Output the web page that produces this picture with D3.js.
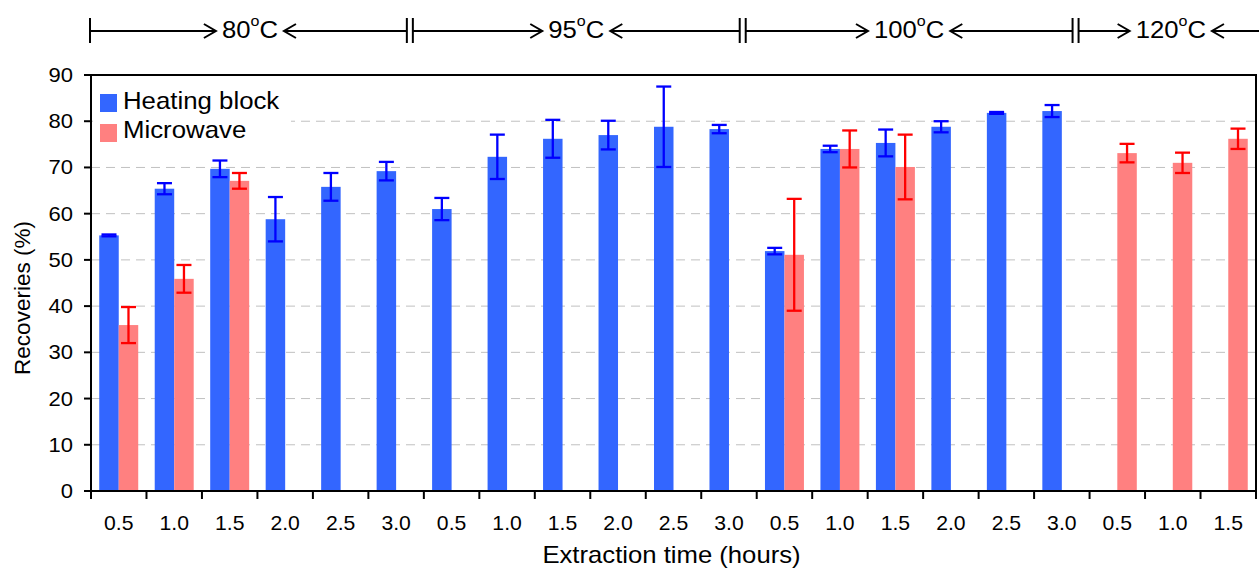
<!DOCTYPE html>
<html><head><meta charset="utf-8">
<script src="https://cdn.jsdelivr.net/npm/d3@7"></script>
<style>
body{margin:0;background:#fff}
text{font-family:"Liberation Sans",Arial,sans-serif;fill:#000}
</style>
</head><body>
<svg id="c" width="1259" height="570"></svg>
<script>
const timeLabels = ["0.5","1.0","1.5","2.0","2.5","3.0","0.5","1.0","1.5","2.0","2.5","3.0","0.5","1.0","1.5","2.0","2.5","3.0","0.5","1.0","1.5"];
const tempLabels = ["80","95","100","120"];
const tempCounts = [6,6,6,3];
const seriesNames = ["Heating block","Microwave"];
const heating =      [55.3,65.4,69.7,58.8,65.8,69.2, 61.0,72.3,76.2,77.0,78.8,78.3, 51.9,74.0,75.3,78.8,81.8,82.2, null,null,null];
const heatingErr =   [0.2, 1.2, 1.8, 4.8, 3.0, 2.0,  2.4, 4.8, 4.1, 3.1, 8.7, 0.9,  0.7, 0.7, 2.9, 1.2, 0.2, 1.3,  null,null,null];
const microwave =    [35.9,45.9,67.1,null,null,null, null,null,null,null,null,null, 51.1,74.0,70.1,null,null,null, 73.1,71.0,76.2];
const microwaveErr = [3.9, 3.0, 1.7, null,null,null, null,null,null,null,null,null, 12.1,4.0, 7.0, null,null,null, 2.0, 2.2, 2.2];
const yTicks = [0,10,20,30,40,50,60,70,80,90];
const gridTicks = [10,20,30,40,50,60,70,80];

const fillColors = ["#3366ff","#ff8080"];
const errColors = ["#0000ff","#ff0000"];

const svg = d3.select("#c");
const L = 91, R = 1256, T = 75, B = 491;
const x0 = d3.scaleBand().domain(d3.range(timeLabels.length)).range([L,R]).paddingInner(0).paddingOuter(0);
const x1 = d3.scaleBand().domain([0,1]).range([0,x0.bandwidth()]).paddingInner(0).paddingOuter(0.423);
const y = d3.scaleLinear().domain([0,90]).range([B,T]);

// grid
svg.append("g").selectAll("line").data(gridTicks).join("line")
  .attr("x1",L).attr("x2",R).attr("y1",d=>y(d)).attr("y2",d=>y(d))
  .attr("stroke","#c0c0c0").attr("stroke-width",1).attr("stroke-dasharray","9,6");

// legend background
svg.append("rect").attr("x",93).attr("y",78).attr("width",198).attr("height",70).attr("fill","#fff");

// bars
const series = [
  {vals:heating, errs:heatingErr},
  {vals:microwave, errs:microwaveErr}
];
series.forEach((s,si)=>{
  const data = s.vals.map((v,i)=>({i,v,e:s.errs[i]})).filter(d=>d.v!=null);
  const g = svg.append("g");
  g.selectAll("rect").data(data).join("rect")
    .attr("x",d=>x0(d.i)+x1(si)).attr("width",x1.bandwidth())
    .attr("y",d=>y(d.v)).attr("height",d=>y(0)-y(d.v))
    .attr("fill",fillColors[si]);
  const eg = svg.append("g").attr("stroke",errColors[si]).attr("stroke-width",2.3);
  data.forEach(d=>{
    const cx = x0(d.i)+x1(si)+x1.bandwidth()/2;
    eg.append("line").attr("x1",cx).attr("x2",cx).attr("y1",y(d.v+d.e)).attr("y2",y(d.v-d.e));
    eg.append("line").attr("x1",cx-7.5).attr("x2",cx+7.5).attr("y1",y(d.v+d.e)).attr("y2",y(d.v+d.e));
    eg.append("line").attr("x1",cx-7.5).attr("x2",cx+7.5).attr("y1",y(d.v-d.e)).attr("y2",y(d.v-d.e));
  });
});

// frame
svg.append("path").attr("d",`M${L},${T}H${R}V${B}`).attr("fill","none").attr("stroke","#000").attr("stroke-width",2);
svg.append("line").attr("x1",L).attr("x2",L).attr("y1",T).attr("y2",B).attr("stroke","#000").attr("stroke-width",2);
svg.append("line").attr("x1",L).attr("x2",R).attr("y1",B).attr("y2",B).attr("stroke","#000").attr("stroke-width",2);

// y axis ticks & labels
const ya = svg.append("g");
ya.selectAll("line").data(yTicks).join("line")
  .attr("x1",L-7).attr("x2",L).attr("y1",d=>y(d)).attr("y2",d=>y(d)).attr("stroke","#000").attr("stroke-width",2);
ya.selectAll("text").data(yTicks).join("text")
  .attr("transform",d=>`translate(73,${y(d)+7}) scale(1.1,1)`)
  .attr("text-anchor","end").attr("font-size",20).text(d=>d);

// x axis ticks & labels
const xb = d3.range(timeLabels.length).map(i=>x0(i)).concat([R]);
const xa = svg.append("g");
xa.selectAll("line").data(xb).join("line")
  .attr("x1",d=>d).attr("x2",d=>d).attr("y1",B).attr("y2",B+8).attr("stroke","#000").attr("stroke-width",2);
xa.selectAll("text").data(timeLabels).join("text")
  .attr("transform",(d,i)=>`translate(${x0(i)+x0.bandwidth()/2},530) scale(1.06,1)`)
  .attr("text-anchor","middle").attr("font-size",20).text(d=>d);

// axis titles
svg.append("text").attr("transform",`translate(${(L+R)/2 - 2},563) scale(1.07,1)`)
  .attr("text-anchor","middle").attr("font-size",24).text("Extraction time (hours)");
svg.append("text").attr("transform",`translate(30,298) rotate(-90)`)
  .attr("text-anchor","middle").attr("font-size",22.5).text("Recoveries (%)");

// legend
seriesNames.forEach((n,i)=>{
  svg.append("rect").attr("x",100).attr("y",94+i*30).attr("width",17).attr("height",18).attr("fill",fillColors[i]);
  svg.append("text").attr("transform",`translate(123,${109+i*29}) scale(1.075,1)`)
    .attr("font-size",24).text(n);
});

// header temperature ranges
const hy = 31;
const HS = 1.07;
const hdr = svg.append("g").attr("stroke","#000");
let start = 0;
const seps = [];
tempCounts.forEach((c,gi)=>{
  seps.push(gi===0 ? L-1 : x0(start)-14);
  start += c;
});
seps.push(1262);
seps.forEach((s,si)=>{
  if(si===0){
    hdr.append("line").attr("x1",s).attr("x2",s).attr("y1",18).attr("y2",43).attr("stroke-width",2);
  } else if(si<seps.length-1){
    [-3,3].forEach(o=>hdr.append("line").attr("x1",s+o).attr("x2",s+o).attr("y1",18).attr("y2",43).attr("stroke-width",2));
  }
});
tempLabels.forEach((t,gi)=>{
  const a = seps[gi] + (gi===0?0:3), b = seps[gi+1] - (gi+1<seps.length-1?3:0);
  const cx = (seps[gi]+seps[gi+1])/2 + (gi===3?2:0);
  const tx = svg.append("text").attr("transform",`translate(${cx},38) scale(${HS},1)`)
    .attr("text-anchor","middle").attr("font-size",24);
  tx.append("tspan").text(t);
  tx.append("tspan").attr("font-size",15).attr("dy",-12).text("o");
  tx.append("tspan").attr("dy",12).text("C");
  const w = tx.node().getComputedTextLength()*HS;
  const tipR = cx - w/2 - 6, tipL = cx + w/2 + 6;
  hdr.append("line").attr("x1",a).attr("x2",tipR).attr("y1",hy).attr("y2",hy).attr("stroke-width",1.8);
  hdr.append("path").attr("d",`M${tipR-12},${hy-7}L${tipR},${hy}L${tipR-12},${hy+7}`).attr("fill","none").attr("stroke-width",2);
  hdr.append("line").attr("x1",tipL).attr("x2",b).attr("y1",hy).attr("y2",hy).attr("stroke-width",1.8);
  hdr.append("path").attr("d",`M${tipL+12},${hy-7}L${tipL},${hy}L${tipL+12},${hy+7}`).attr("fill","none").attr("stroke-width",2);
});
</script>
</body></html>
